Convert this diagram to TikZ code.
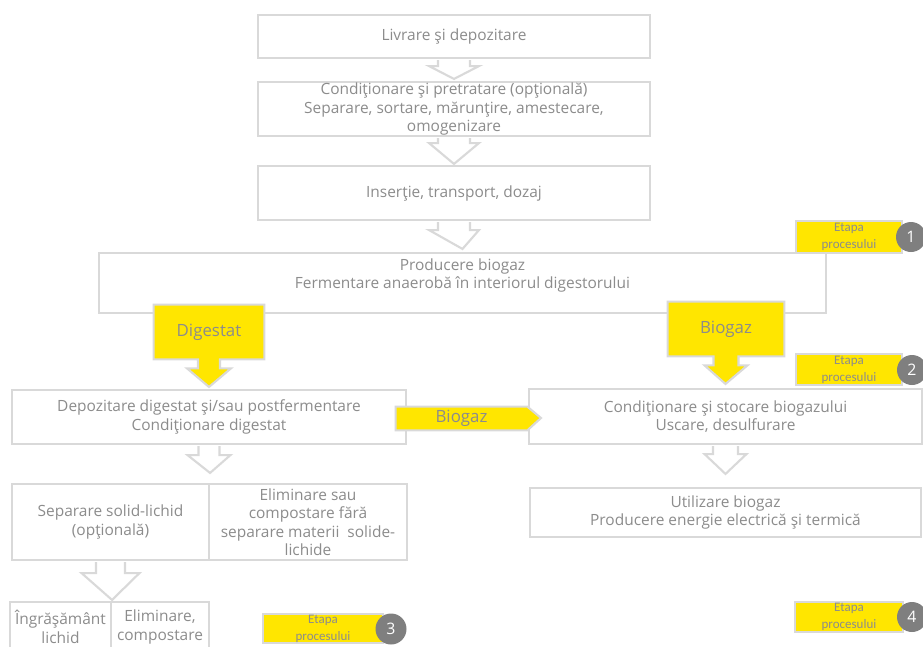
\documentclass[tikz,border=0pt]{standalone}
\usepackage{fontspec}
\setmainfont{Open Sans}
\newfontfamily\badgefont{Carlito}
\usetikzlibrary{calc}
\definecolor{eyyellow}{HTML}{FFE600}
\definecolor{boxline}{HTML}{D9D9D9}
\definecolor{txtgray}{HTML}{8C8C8C}
\definecolor{dotgray}{HTML}{7F7F7F}
\def\pxu{0.02cm}

\tikzset{
  stepbox/.style={draw=boxline, line width=1.2pt, fill=white, text=txtgray,
    align=center, inner sep=0pt, font=\fontsize{8.8}{10.5}\selectfont},
  hollow/.style={draw=boxline, line width=1.2pt, fill=white, line join=miter},
  yellowshape/.style={draw=boxline, line width=1.2pt, fill=eyyellow},
  flowlabel/.style={text=txtgray, inner sep=0pt, font=\fontsize{9.6}{11}\selectfont},
  badge/.style={draw=boxline, line width=0.8pt, fill=eyyellow, text=txtgray,
    align=center, inner sep=0pt, font=\badgefont\fontsize{7.4}{9.6}\selectfont},
  stagedot/.style={circle, fill=dotgray, text=white, inner sep=0pt,
    minimum size=30*\pxu, font=\fontsize{9}{10}\selectfont},
}

% hollow arrow: from, to, shaft half width, head half width, shaft length, gap
\newcommand{\hollowarrow}[6]{%
  \draw[hollow] ($(#1)+(-#3,1)$) -- ($(#1)+(-#3,#5)$) -- ($(#1)+(-#4,#5)$) --
    ($(#2)+(0,-#6)$) -- ($(#1)+(#4,#5)$) -- ($(#1)+(#3,#5)$) -- ($(#1)+(#3,1)$);}

\begin{document}
\begin{tikzpicture}[x=\pxu, y=-\pxu]
\useasboundingbox (0,0) rectangle (923,646);
\clip (0,0) rectangle (923,646);

\node[stepbox, minimum width=392*\pxu, minimum height=43*\pxu] (liv) at (454,36.5)
  {Livrare şi depozitare};
\node[stepbox, minimum width=392*\pxu, minimum height=54*\pxu] (cond) at (454,109)
  {Condiţionare şi pretratare (opţională)\\Separare, sortare, mărunţire, amestecare,\\omogenizare};
\node[stepbox, minimum width=392*\pxu, minimum height=54*\pxu] (ins) at (454,193)
  {Inserţie, transport, dozaj};
\node[stepbox, minimum width=727*\pxu, minimum height=60*\pxu] (prod) at (462.5,283)
  {Producere biogaz\\Fermentare anaerobă în interiorul digestorului\\\mbox{}};

\hollowarrow{liv.south}{cond.north}{16}{25}{7}{2}
\hollowarrow{cond.south}{ins.north}{16}{25}{6}{1}
\hollowarrow{ins.south}{prod.north}{16}{25}{9}{3}

\node[stepbox, minimum width=394*\pxu, minimum height=54*\pxu] (dep) at (209,417)
  {Depozitare digestat şi/sau postfermentare\\Condiţionare digestat};
\node[stepbox, minimum width=197*\pxu, minimum height=76*\pxu] (sep) at (110.5,522)
  {Separare solid-lichid\\(opţională)};
\node[stepbox, minimum width=198*\pxu, minimum height=76*\pxu] (elim) at (308,522)
  {Eliminare sau\\compostare fără\\separare materii~ solide-\\lichide};
\node[stepbox, minimum width=101*\pxu, minimum height=50*\pxu] (ingr) at (60.5,627)
  {Îngrăşământ\\lichid};
\node[stepbox, minimum width=98*\pxu, minimum height=50*\pxu] (comp) at (160,627)
  {Eliminare,\\compostare};
\node[stepbox, minimum width=393*\pxu, minimum height=55*\pxu] (stoc) at (725.5,416.5)
  {Condiţionare şi stocare biogazului\\Uscare, desulfurare};
\node[stepbox, minimum width=391*\pxu, minimum height=49*\pxu] (util) at (725.5,512.5)
  {Utilizare biogaz\\Producere energie electrică şi termică};

\hollowarrow{dep.south}{sep.north east}{10.5}{21.5}{10}{10}
\hollowarrow{sep.south}{ingr.north east}{14.5}{29}{12}{1}
\hollowarrow{stoc.south}{util.north}{12.5}{21}{9}{13}

% yellow flows
\node[minimum width=110*\pxu, minimum height=54*\pxu, inner sep=0pt] (dig) at (209,332) {};
\draw[yellowshape] (dig.north west) -- (dig.north east) -- (dig.south east) --
  ($(dig.south)+(11,0)$) -- ($(dig.south)+(11,9)$) -- ($(dig.south)+(22,9)$) --
  ($(dep.north)+(0,-2)$) -- ($(dig.south)+(-22,9)$) -- ($(dig.south)+(-11,9)$) --
  ($(dig.south)+(-11,0)$) -- (dig.south west) -- cycle;
\node[flowlabel] at (dig) {Digestat};

\node[minimum width=116*\pxu, minimum height=54*\pxu, inner sep=0pt] (bgv) at (726,329) {};
\draw[yellowshape] (bgv.north west) -- (bgv.north east) -- (bgv.south east) --
  ($(bgv.south)+(12.5,0)$) -- ($(bgv.south)+(12.5,9)$) -- ($(bgv.south)+(21.5,9)$) --
  ($(stoc.north)+(0,-4)$) -- ($(bgv.south)+(-21.5,9)$) -- ($(bgv.south)+(-12.5,9)$) --
  ($(bgv.south)+(-12.5,0)$) -- (bgv.south west) -- cycle;
\node[flowlabel] at (bgv) {Biogaz};

\node[minimum width=131*\pxu, minimum height=23*\pxu, inner sep=0pt] (bgh) at (461.5,418.5) {};
\draw[yellowshape] (bgh.north west) -- (bgh.north east) -- ($(stoc.west)+(13,1.5)$) --
  (bgh.south east) -- (bgh.south west) -- cycle;
\node[flowlabel] at (bgh) {Biogaz};

% process stages
\node[badge, minimum width=106*\pxu, minimum height=32*\pxu] (e1) at (849,237) {Etapa\\procesului};
\node[stagedot] (n1) at (911,237) {1};
\node[badge, minimum width=106*\pxu, minimum height=31*\pxu] (e2) at (849,369.5) {Etapa\\procesului};
\node[stagedot] (n2) at (912,370) {2};
\node[badge, minimum width=120*\pxu, minimum height=29*\pxu] (e3) at (323,628.5) {Etapa\\procesului};
\node[stagedot, minimum size=31*\pxu] (n3) at (391,629) {3};
\node[badge, minimum width=108*\pxu, minimum height=30*\pxu] (e4) at (849,617) {Etapa\\procesului};
\node[stagedot] (n4) at (912,617) {4};
\end{tikzpicture}
\end{document}
